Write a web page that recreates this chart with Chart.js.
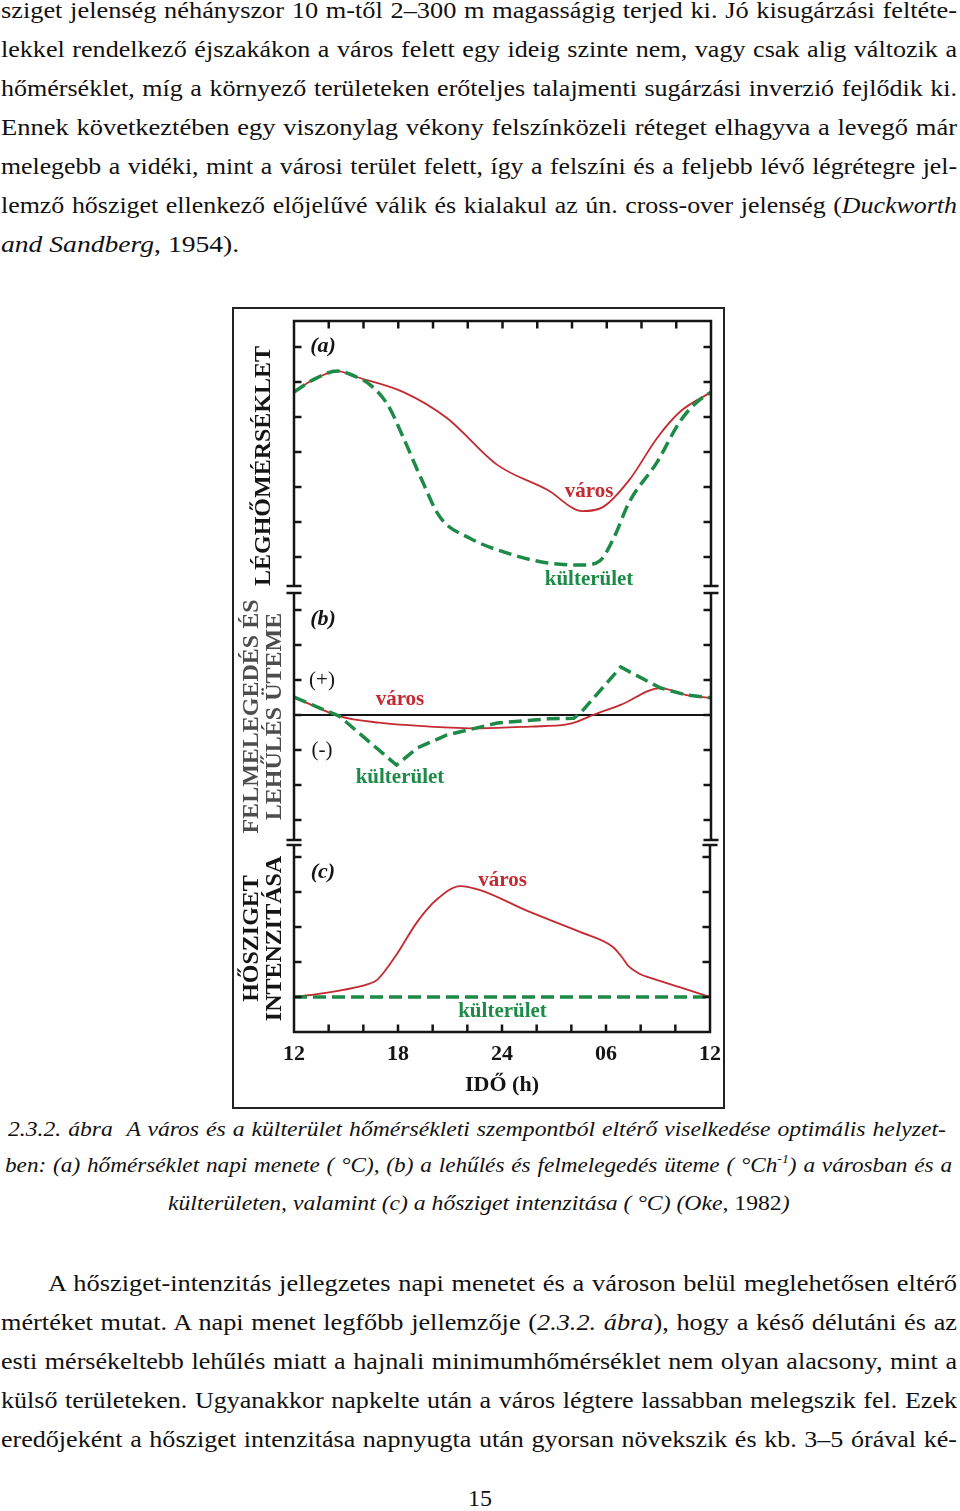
<!DOCTYPE html>
<html><head><meta charset="utf-8">
<script src="https://cdn.jsdelivr.net/npm/chart.js@4.4.1/dist/chart.umd.min.js"></script>
<style>
html,body{margin:0;padding:0;background:#fff;}
body{width:960px;height:1511px;position:relative;overflow:hidden;font-family:"Liberation Serif","Times New Roman",serif;color:#111;}
.jl{position:absolute;left:1px;display:inline-block;white-space:nowrap;font-size:24px;line-height:28px;height:28px;transform-origin:0 0;}
.cap{font-size:22px;line-height:26px;height:26px;font-style:italic;}
.up{font-style:normal;}
sup{font-size:13px;line-height:0;vertical-align:9px;}
#frame{position:absolute;left:232px;top:307px;width:489px;height:798px;border:2px solid #222;}
canvas{position:absolute;left:200px;}
#pg{position:absolute;left:0;width:960px;top:1484px;font-size:24px;line-height:28px;text-align:center;}
</style></head>
<body>
<div class="jl" data-w="956" data-s="1.15" style="top:-4px">sziget jelenség néhányszor 10 m-től 2–300 m magasságig terjed ki. Jó kisugárzási feltéte-</div>
<div class="jl" data-w="956" data-s="1.15" style="top:35px">lekkel rendelkező éjszakákon a város felett egy ideig szinte nem, vagy csak alig változik a</div>
<div class="jl" data-w="956" data-s="1.15" style="top:74px">hőmérséklet, míg a környező területeken erőteljes talajmenti sugárzási inverzió fejlődik ki.</div>
<div class="jl" data-w="956" data-s="1.15" style="top:113px">Ennek következtében egy viszonylag vékony felszínközeli réteget elhagyva a levegő már</div>
<div class="jl" data-w="956" data-s="1.15" style="top:152px">melegebb a vidéki, mint a városi terület felett, így a felszíni és a feljebb lévő légrétegre jel-</div>
<div class="jl" data-w="956" data-s="1.15" style="top:191px">lemző hősziget ellenkező előjelűvé válik és kialakul az ún. cross-over jelenség (<i>Duckworth</i></div>
<div class="jl" data-s="1.15" style="top:230px"><i>and Sandberg</i>, 1954).</div>

<div id="frame"></div>
<canvas id="cA" width="530" height="280" style="top:315px"></canvas>
<canvas id="cB" width="530" height="258" style="top:588px"></canvas>
<canvas id="cC" width="530" height="270" style="top:836px"></canvas>

<div class="jl cap" data-w="938" data-s="1.076" style="left:8px;top:1116px">2.3.2. ábra&nbsp; A város és a külterület hőmérsékleti szempontból eltérő viselkedése optimális helyzet-</div>
<div class="jl cap" data-w="947" data-s="1.076" style="left:5px;top:1152px">ben: (a) hőmérséklet napi menete ( °C), (b) a lehűlés és felmelegedés üteme ( °Ch<sup>-1</sup>) a városban és a</div>
<div class="jl cap" data-s="1.076" data-c="479" style="top:1190px">külterületen, valamint (c) a hősziget intenzitása ( °C) (Oke, <span class="up">1982</span>)</div>

<div class="jl" data-w="909" data-s="1.15" style="top:1269px;left:48px">A hősziget-intenzitás jellegzetes napi menetet és a városon belül meglehetősen eltérő</div>
<div class="jl" data-w="956" data-s="1.15" style="top:1308px">mértéket mutat. A napi menet legfőbb jellemzője (<i>2.3.2. ábra</i>), hogy a késő délutáni és az</div>
<div class="jl" data-w="956" data-s="1.15" style="top:1347px">esti mérsékeltebb lehűlés miatt a hajnali minimumhőmérséklet nem olyan alacsony, mint a</div>
<div class="jl" data-w="956" data-s="1.15" style="top:1386px">külső területeken. Ugyanakkor napkelte után a város légtere lassabban melegszik fel. Ezek</div>
<div class="jl" data-w="956" data-s="1.15" style="top:1425px">eredőjeként a hősziget intenzitása napnyugta után gyorsan növekszik és kb. 3–5 órával ké-</div>
<div id="pg">15</div>

<script>
// ---- time axis (hours after noon: 0 = 12h, 24 = next 12h) ----
const xTickHours = [0, 6, 12, 18, 24];
const xTickLabels = ['12', '18', '24', '06', '12'];
const minorTickHours = [2, 4, 6, 8, 10, 12, 14, 16, 18, 20, 22];

// ---- (a) air temperature ----
const aCityHours = [0, 1.1, 2.5, 3.6, 6.3, 8.8, 11.7, 14.6, 16.6, 17.8, 19.3, 20.9, 22.2, 24];
const aCityTemp  = [5.71, 6.06, 6.31, 6.14, 5.71, 4.97, 3.63, 2.91, 2.31, 2.43, 3.2, 4.4, 5.14, 5.71];
const aRuralHours = [0, 1.1, 2.5, 3.6, 4.4, 5.4, 6.3, 7.3, 8.4, 10.1, 12.6, 14.6, 16.6, 17.6, 18.4, 19.3, 20.9, 22.2, 23.2, 24];
const aRuralTemp  = [5.71, 6.06, 6.31, 6.14, 5.91, 5.34, 4.4, 3.26, 2.14, 1.54, 1.06, 0.83, 0.77, 0.89, 1.54, 2.57, 3.71, 4.86, 5.43, 5.71];
const aTicks = [1, 2, 3, 4, 5, 6, 7];

// ---- (b) heating / cooling rate ----
const bCityHours = [0, 2.6, 4.9, 7.8, 10.7, 13.6, 15.7, 16.3, 17.2, 18.8, 21.1, 22.6, 24];
const bCityRate  = [0.51, -0.03, -0.22, -0.33, -0.38, -0.33, -0.27, -0.19, 0, 0.29, 0.77, 0.57, 0.49];
const bRuralHours = [0, 2.6, 5.9, 7.1, 8.8, 11.7, 14.6, 16.1, 16.5, 18.8, 21.1, 22.6, 24];
const bRuralRate  = [0.51, -0.03, -1.43, -0.94, -0.57, -0.23, -0.11, -0.09, 0.06, 1.37, 0.77, 0.57, 0.49];
const bTicks = [-3, -2, -1, 0, 1, 2, 3];

// ---- (c) heat island intensity ----
const cCityHours = [0, 2.1, 4.4, 4.8, 5.9, 7.1, 8.2, 9.6, 10.7, 13.6, 16.5, 18.4, 18.9, 19.3, 19.9, 20.6, 22.2, 24];
const cCityIntensity = [0, 0.14, 0.39, 0.49, 1.2, 2.14, 2.77, 3.17, 3.06, 2.43, 1.86, 1.43, 1.15, 0.88, 0.67, 0.54, 0.29, 0];
const cRuralHours = [0, 24];
const cRuralIntensity = [0, 0];
const cTicks = [0, 1, 2, 3, 4];

// ---- page text: justify each printed line to its measured width ----
document.querySelectorAll('.jl').forEach(el => {
  const W = el.getBoundingClientRect().width;
  const maxS = parseFloat(el.dataset.s || '1');
  const n = (el.textContent.match(/[ \u00a0]/g) || []).length;
  if (el.dataset.w) {
    const target = parseFloat(el.dataset.w);
    const s = Math.min(maxS, target / (W + n * 1.0));
    const ws = n ? (target / s - W) / n : 0;
    el.style.wordSpacing = ws + 'px';
    el.style.transform = 'scaleX(' + s + ')';
  } else {
    el.style.transform = 'scaleX(' + maxS + ')';
    if (el.dataset.c) el.style.left = (parseFloat(el.dataset.c) - W * maxS / 2) + 'px';
  }
});

const RED = '#c42a30', GREEN = '#1d8b47', INK = '#151515';
const SERIF = '"Liberation Serif", "Times New Roman", serif';

function pts(h, v) { return h.map((x, i) => ({ x: x, y: v[i] })); }

const framePlugin = {
  id: 'panelFrame',
  beforeDatasetsDraw(chart, args, o) {
    if (!o.zeroLine) return;
    const { ctx, chartArea: { left, right }, scales: { y } } = chart;
    const py = y.getPixelForValue(0);
    ctx.save();
    ctx.strokeStyle = INK; ctx.lineWidth = 2.2;
    ctx.beginPath(); ctx.moveTo(left, py); ctx.lineTo(right, py); ctx.stroke();
    ctx.restore();
  },
  afterDatasetsDraw(chart, args, o) {
    const { ctx, chartArea: { left, right, top, bottom }, scales: { x, y } } = chart;
    ctx.save();
    ctx.strokeStyle = INK; ctx.lineWidth = 2.5; ctx.lineCap = 'butt';
    ctx.beginPath();
    ctx.moveTo(left, top); ctx.lineTo(left, bottom);
    ctx.moveTo(right, top); ctx.lineTo(right, bottom);
    if (o.topEdge) { ctx.moveTo(left - 1.25, top); ctx.lineTo(right + 1.25, top); }
    if (o.bottomEdge) { ctx.moveTo(left - 1.25, bottom); ctx.lineTo(right + 1.25, bottom); }
    const T = 7.5, C = 7.5;
    o.yTicks.forEach(v => {
      const py = y.getPixelForValue(v);
      ctx.moveTo(left, py); ctx.lineTo(left + T, py);
      ctx.moveTo(right, py); ctx.lineTo(right - T, py);
    });
    if (o.topTicks) minorTickHours.forEach(h => { const px = x.getPixelForValue(h); ctx.moveTo(px, top); ctx.lineTo(px, top + T); });
    if (o.bottomTicks) minorTickHours.forEach(h => { const px = x.getPixelForValue(h); ctx.moveTo(px, bottom); ctx.lineTo(px, bottom - T); });
    if (o.capTop) { ctx.moveTo(left - C, top); ctx.lineTo(left + C, top); ctx.moveTo(right - C, top); ctx.lineTo(right + C, top); }
    if (o.capBottom) { ctx.moveTo(left - C, bottom); ctx.lineTo(left + C, bottom); ctx.moveTo(right - C, bottom); ctx.lineTo(right + C, bottom); }
    ctx.stroke();
    ctx.textAlign = 'center'; ctx.textBaseline = 'middle';
    (o.labels || []).forEach(l => {
      ctx.font = l.font; ctx.fillStyle = l.color;
      ctx.fillText(l.text, x.getPixelForValue(l.h), y.getPixelForValue(l.v));
    });
    ctx.restore();
  }
};

const LBL = 'bold 21px ' + SERIF;
const PANEL = 'italic bold 22px ' + SERIF;
const SIGN = '21px ' + SERIF;

function makeChart(id, datasets, cfg) {
  const xScale = { type: 'linear', min: 0, max: 24, display: false };
  if (cfg.showX) {
    Object.assign(xScale, {
      display: true,
      afterBuildTicks(s) { s.ticks = xTickHours.map(v => ({ value: v })); },
      afterFit(s) { s.height = 74; },
      grid: { display: false, drawTicks: false },
      border: { display: false },
      ticks: { autoSkip: false, maxRotation: 0, padding: 9, color: INK,
               font: { family: SERIF, weight: 'bold', size: 22 },
               callback: (v, i) => xTickLabels[i] },
      title: { display: true, text: 'IDŐ (h)', color: INK,
               font: { family: SERIF, weight: 'bold', size: 22, lineHeight: 1.2 },
               padding: { top: 0, bottom: 7 } }
    });
  }
  return new Chart(document.getElementById(id), {
    type: 'line',
    data: { datasets },
    options: {
      responsive: false, animation: false, devicePixelRatio: 1,
      layout: { padding: cfg.pad },
      elements: { point: { radius: 0 } },
      plugins: { legend: { display: false }, tooltip: { enabled: false }, panelFrame: cfg.frame },
      scales: {
        x: xScale,
        y: {
          min: cfg.ymin, max: cfg.ymax,
          afterFit(s) { s.width = 94; },
          grid: { display: false, drawTicks: false },
          border: { display: false },
          ticks: { display: false },
          title: { display: true, text: cfg.title, align: cfg.titleAlign, color: cfg.titleColor,
                   font: { family: SERIF, weight: 'bold', size: 24, lineHeight: cfg.titleLH },
                   padding: { top: cfg.titlePad, bottom: 0 } }
        }
      }
    },
    plugins: [framePlugin]
  });
}

function greenDs(h, v, extra) {
  return Object.assign({ data: pts(h, v), borderColor: GREEN, borderWidth: 3.5, borderDash: [13, 6], fill: false }, extra);
}
function redDs(h, v, extra) {
  return Object.assign({ data: pts(h, v), borderColor: RED, borderWidth: 1.8, fill: false }, extra);
}

makeChart('cA', [
  greenDs(aRuralHours, aRuralTemp, { cubicInterpolationMode: 'monotone' }),
  redDs(aCityHours, aCityTemp, { cubicInterpolationMode: 'monotone' })
], {
  pad: { left: 0, right: 19, top: 6, bottom: 9 },
  ymin: 0.17, ymax: 7.74,
  title: 'LÉGHŐMÉRSÉKLET', titleAlign: 'start', titleColor: INK, titleLH: '27.5px', titlePad: 50,
  frame: { yTicks: aTicks, topEdge: true, topTicks: true, capBottom: true,
    labels: [
      { text: '(a)', h: 1.67, v: 7.03, font: PANEL, color: INK },
      { text: 'város', h: 16.98, v: 2.86, font: LBL, color: RED },
      { text: 'külterület', h: 16.98, v: 0.34, font: LBL, color: GREEN }
    ] }
});

makeChart('cB', [
  greenDs(bRuralHours, bRuralRate, { tension: 0 }),
  redDs(bCityHours, bCityRate, { cubicInterpolationMode: 'monotone' })
], {
  pad: { left: 0, right: 19, top: 5, bottom: 6 },
  ymin: -3.571, ymax: 3.486,
  title: ['FELMELEGEDÉS ÉS', 'LEHŰLÉS ÜTEME'], titleAlign: 'center', titleColor: '#4d4d4d', titleLH: '23px', titlePad: 40.5,
  frame: { yTicks: bTicks, capTop: true, capBottom: true, zeroLine: true,
    labels: [
      { text: '(b)', h: 1.67, v: 2.74, font: PANEL, color: INK },
      { text: '(+)', h: 1.61, v: 1.0, font: SIGN, color: INK },
      { text: '(-)', h: 1.61, v: -1.0, font: SIGN, color: INK },
      { text: 'város', h: 6.1, v: 0.43, font: LBL, color: RED },
      { text: 'külterület', h: 6.1, v: -1.8, font: LBL, color: GREEN }
    ] }
});

makeChart('cC', [
  greenDs(cRuralHours, cRuralIntensity, { tension: 0 }),
  redDs(cCityHours, cCityIntensity, { cubicInterpolationMode: 'monotone' })
], {
  showX: true,
  pad: { left: 0, right: 19, top: 9, bottom: 0 },
  ymin: -1.0, ymax: 4.343,
  title: ['HŐSZIGET', 'INTENZITÁSA'], titleAlign: 'center', titleColor: INK, titleLH: '23px', titlePad: 40.5,
  frame: { yTicks: cTicks, capTop: true, bottomEdge: true, bottomTicks: true,
    labels: [
      { text: '(c)', h: 1.67, v: 3.57, font: PANEL, color: INK },
      { text: 'város', h: 12.03, v: 3.34, font: LBL, color: RED },
      { text: 'külterület', h: 12.03, v: -0.43, font: LBL, color: GREEN }
    ] }
});
</script>
</body></html>
